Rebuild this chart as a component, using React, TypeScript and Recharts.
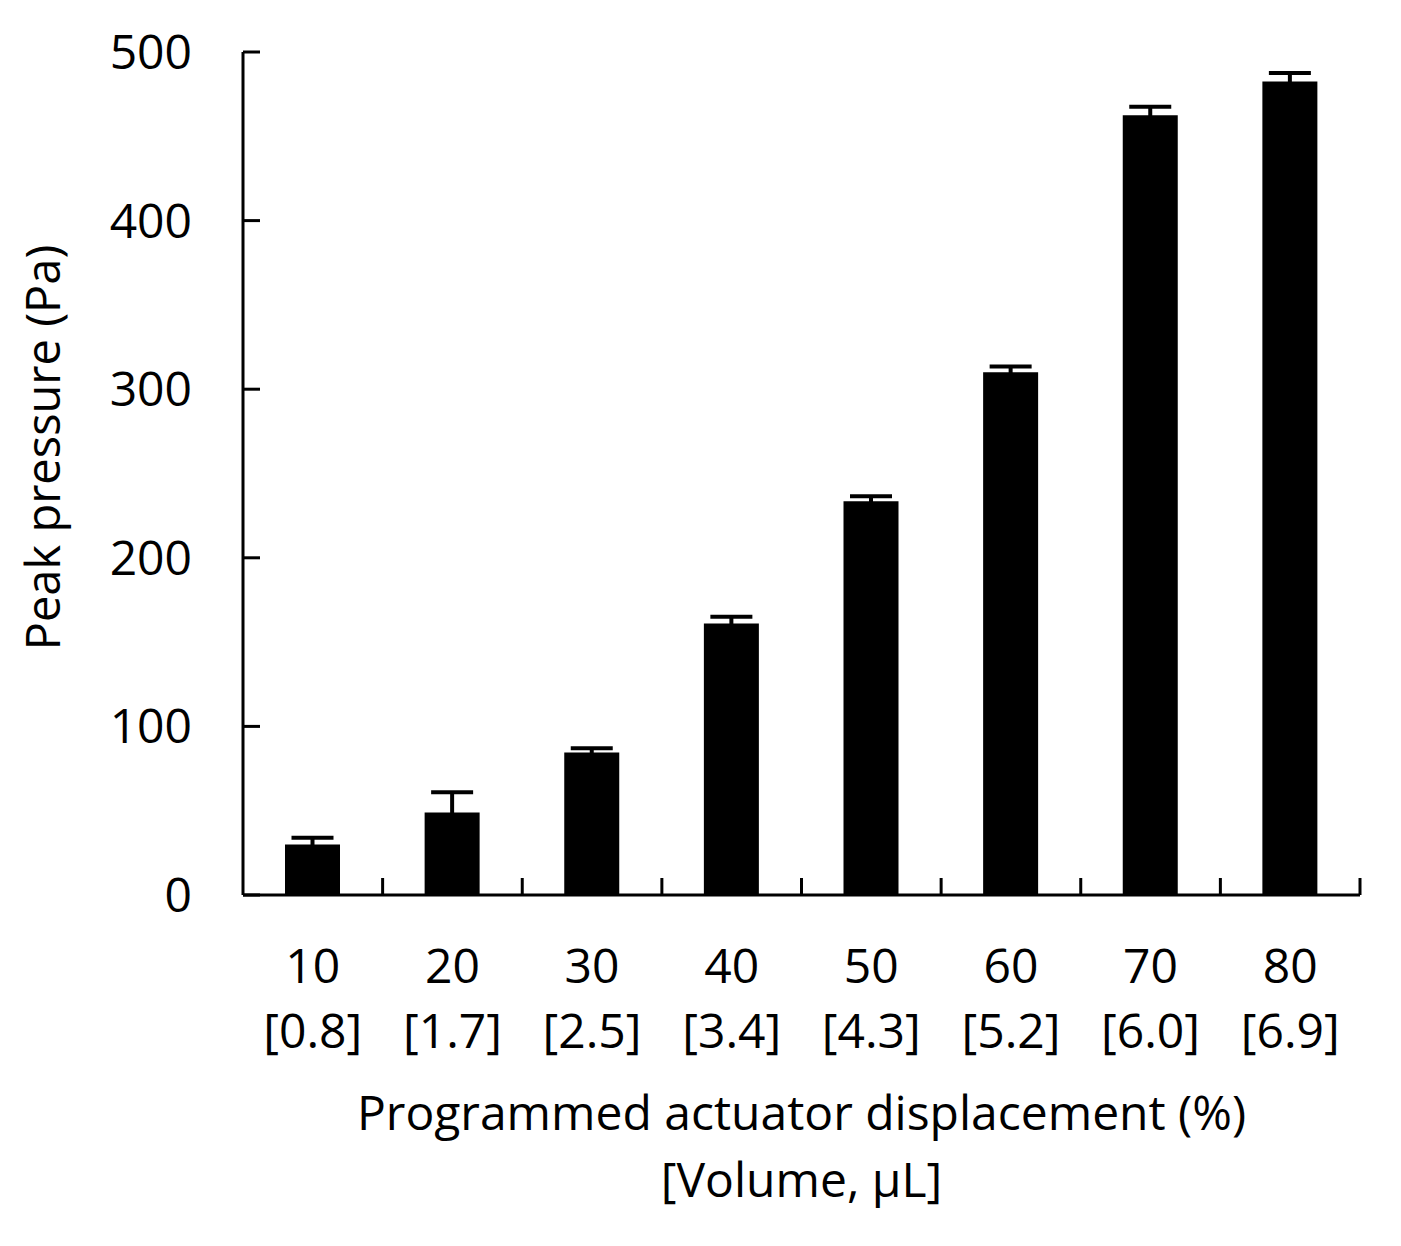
import React from "react"
import { BarChart, Bar, XAxis, YAxis, ErrorBar } from "recharts"

// displacement (%) and matching volume (µL)
const displacement = ["10", "20", "30", "40", "50", "60", "70", "80"]
const volume = ["[0.8]", "[1.7]", "[2.5]", "[3.4]", "[4.3]", "[5.2]", "[6.0]", "[6.9]"]
// peak pressure (Pa) with error bar size
const peakPressure = [30, 49, 84.5, 161, 233.5, 310, 462.5, 482.5]
const pressureErr = [4, 12, 2.5, 4, 3, 3.5, 5, 5]
const yTicks = [0, 100, 200, 300, 400, 500]

const FONT = "'Open Sans', sans-serif"
const FS = 48

const W = 1401
const H = 1246
const Y_AXIS_W = 243
const RIGHT = 41
// category ticks sit on the boundaries, so shift them half a band
const halfBand = (W - Y_AXIS_W - RIGHT) / displacement.length / 2

const data = displacement.map((d, i) => ({
  name: d,
  vol: volume[i],
  value: peakPressure[i],
  err: pressureErr[i],
}))

function XTick(props: any) {
  const { x, y, payload, index } = props
  return (
    <text x={x} y={y} textAnchor="middle" fontFamily={FONT} fontSize={FS} fill="#000">
      <tspan x={x} dy={88}>{payload.value}</tspan>
      <tspan x={x} dy={65}>{data[index]?.vol}</tspan>
    </text>
  )
}

function YTick(props: any) {
  const { x, y, payload } = props
  return (
    <text x={x} y={y} dy="0.355em" textAnchor="end" fontFamily={FONT} fontSize={FS} fill="#000">
      {payload.value}
    </text>
  )
}

function XTitle(props: any) {
  const { viewBox } = props
  const cx = viewBox.x + viewBox.width / 2
  return (
    <text x={cx} y={viewBox.y} textAnchor="middle" fontFamily={FONT} fontSize={48} fill="#000">
      <tspan x={cx} dy={235}>Programmed actuator displacement (%)</tspan>
      <tspan x={cx} dy={67}>[Volume, µL]</tspan>
    </text>
  )
}

function YTitle(props: any) {
  const { viewBox } = props
  const cx = 60
  const cy = viewBox.y + viewBox.height / 2 - 26
  return (
    <text
      x={cx}
      y={cy}
      transform={`rotate(-90 ${cx} ${cy})`}
      textAnchor="middle"
      fontFamily={FONT}
      fontSize={47}
      fill="#000"
    >
      Peak pressure (Pa)
    </text>
  )
}

export default function App() {
  return (
    <div style={{ width: W, height: H, background: "#fff" }}>
      <style>{"body{margin:0}"}</style>
      <BarChart
        width={W}
        height={H}
        data={data}
        margin={{ top: 52, right: RIGHT, left: 0, bottom: 0 }}
        barCategoryGap={0}
      >
        <XAxis
          dataKey="name"
          height={H - 895}
          tickSize={-17}
          tickMargin={17}
          tickLine={{ stroke: "#000", strokeWidth: 3, transform: `translate(${halfBand} 0)` }}
          axisLine={{ stroke: "#000", strokeWidth: 3 }}
          tick={<XTick />}
          interval={0}
          label={<XTitle />}
        />
        <YAxis
          width={Y_AXIS_W}
          domain={[0, 500]}
          ticks={yTicks}
          tickSize={-17}
          tickMargin={68}
          axisLine={{ stroke: "#000", strokeWidth: 3 }}
          tickLine={{ stroke: "#000", strokeWidth: 3 }}
          tick={<YTick />}
          label={<YTitle />}
        />
        <Bar dataKey="value" fill="#000" barSize={55} isAnimationActive={false}>
          <ErrorBar dataKey="err" direction="y" width={21} stroke="#000" strokeWidth={4} />
        </Bar>
      </BarChart>
    </div>
  )
}
